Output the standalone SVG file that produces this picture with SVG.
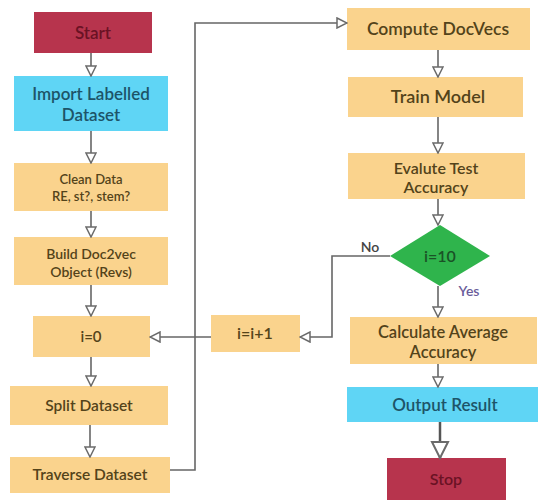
<svg xmlns="http://www.w3.org/2000/svg" width="542" height="500" viewBox="0 0 542 500">
<defs>
<marker id="arr" viewBox="0 0 12 12" refX="11" refY="6" markerWidth="12" markerHeight="12" markerUnits="userSpaceOnUse" orient="auto">
<path d="M1,1 L11,6 L1,11 Z" fill="#fff" stroke="#6b6b6b" stroke-width="1.5"/>
</marker>
<marker id="arrBig" viewBox="0 0 20 20" refX="18" refY="10" markerWidth="20" markerHeight="20" markerUnits="userSpaceOnUse" orient="auto">
<path d="M2,2 L18,10 L2,18 Z" fill="#fff" stroke="#6b6b6b" stroke-width="2"/>
</marker>
<style>
.o{fill:#fad38d}
.b{fill:#5fd5f5}
.r{fill:#b7344d}
.g{fill:#2fb44c}
text{font-family:Lato,"Open Sans","Liberation Sans",sans-serif;font-weight:600;text-anchor:middle}
.to{fill:#53431a}
.tb{fill:#1d5468}
.tr{fill:#6a1224}
.tg{fill:#1a5226}
.c{fill:none;stroke:#666;stroke-width:1.6;marker-end:url(#arr)}
</style>
</defs>
<rect width="542" height="500" fill="#fff"/>
<g id="start"><rect class="r" x="34" y="12" width="118" height="41"/><text class="tr" x="93" y="39" font-size="17">Start</text></g>
<g id="import"><rect class="b" x="14" y="76" width="154" height="55"/><text class="tb" x="91" y="100" font-size="17">Import Labelled</text><text class="tb" x="91" y="121" font-size="17">Dataset</text></g>
<g id="clean"><rect class="o" x="14" y="163" width="154" height="48"/><text class="to" x="91" y="184" font-size="13">Clean Data</text><text class="to" x="91" y="201" font-size="13">RE, st?, stem?</text></g>
<g id="build"><rect class="o" x="14" y="237" width="154" height="48"/><text class="to" x="91" y="259" font-size="14">Build Doc2vec</text><text class="to" x="91" y="277" font-size="14">Object (Revs)</text></g>
<g id="i0"><rect class="o" x="33" y="316" width="117" height="41"/><text class="to" x="91" y="342" font-size="15">i=0</text></g>
<g id="split"><rect class="o" x="10" y="386" width="158" height="39"/><text class="to" x="89" y="411" font-size="15.5">Split Dataset</text></g>
<g id="traverse"><rect class="o" x="10" y="457" width="160" height="36"/><text class="to" x="90" y="480" font-size="15.5">Traverse Dataset</text></g>
<g id="inc"><rect class="o" x="211" y="315" width="89" height="37"/><text class="to" x="255" y="339" font-size="16">i=i+1</text></g>
<g id="compute"><rect class="o" x="347" y="8" width="183" height="42"/><text class="to" x="438" y="35" font-size="17.5">Compute DocVecs</text></g>
<g id="train"><rect class="o" x="348" y="77" width="175" height="40"/><text class="to" x="438" y="103" font-size="18">Train Model</text></g>
<g id="eval"><rect class="o" x="348" y="153" width="177" height="46"/><text class="to" x="436" y="174" font-size="16">Evalute Test</text><text class="to" x="436" y="193" font-size="16">Accuracy</text></g>
<g id="decision"><polygon class="g" points="440,225 490,256 440,286 390,256"/><text class="tg" x="440" y="262" font-size="16">i=10</text></g>
<g id="calc"><rect class="o" x="350" y="317" width="187" height="47"/><text class="to" x="443" y="338" font-size="16.5">Calculate Average</text><text class="to" x="443" y="358" font-size="16.5">Accuracy</text></g>
<g id="output"><rect class="b" x="347" y="387" width="191" height="35"/><text class="tb" x="445" y="411" font-size="17">Output Result</text></g>
<g id="stop"><rect class="r" x="387" y="458" width="119" height="42"/><text class="tr" x="446" y="485" font-size="16">Stop</text></g>
<g id="labels"><text x="370" y="252" font-size="14" fill="#444" font-weight="400">No</text><text x="469" y="296" font-size="14" fill="#6a5c9a" font-weight="400">Yes</text></g>
<g id="connectors">
<path class="c" d="M91,53 V76"/>
<path class="c" d="M91,131 V163"/>
<path class="c" d="M91,211 V237"/>
<path class="c" d="M91,285 V316"/>
<path class="c" d="M91,357 V386"/>
<path class="c" d="M90,425 V457"/>
<path class="c" d="M170,470 H195 V23 H347"/>
<path class="c" d="M211,337 H150"/>
<path class="c" d="M390,256 H332 V337 H300"/>
<path class="c" d="M438,50 V77"/>
<path class="c" d="M438,117 V153"/>
<path class="c" d="M438,199 V225"/>
<path class="c" d="M438,286 V317"/>
<path class="c" d="M438,364 V387"/>
<path d="M440,422 V458" fill="none" stroke="#555" stroke-width="2.5" marker-end="url(#arrBig)"/>
</g>
</svg>
